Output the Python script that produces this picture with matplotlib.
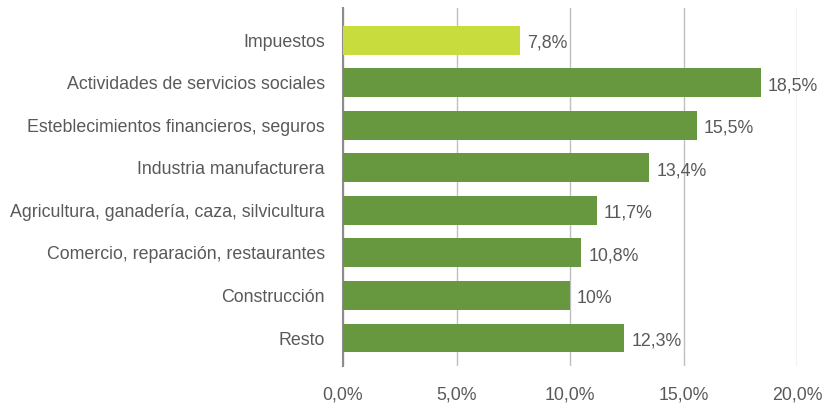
import matplotlib
matplotlib.use("Agg")
import matplotlib.pyplot as plt

categorias = ["Impuestos",
              "Actividades de servicios sociales",
              "Esteblecimientos financieros, seguros",
              "Industria manufacturera",
              "Agricultura, ganadería, caza, silvicultura",
              "Comercio, reparación, restaurantes",
              "Construcción",
              "Resto"]
# longitudes de barra (las etiquetas son las del original)
valores = [7.8, 18.4, 15.6, 13.5, 11.2, 10.5, 10.0, 12.4]
etiquetas = ["7,8%", "18,5%", "15,5%", "13,4%", "11,7%", "10,8%", "10%", "12,3%"]
ticks = [0, 5, 10, 15, 20]
tick_labels = ["0,0%", "5,0%", "10,0%", "15,0%", "20,0%"]

plt.rcParams['font.family'] = ['Liberation Sans', 'DejaVu Sans']
gris = "#595959"
fs = 12.8

fig = plt.figure(figsize=(8.23, 4.05), dpi=100)
ax = fig.add_axes([0.4168, 0.096, 0.5516, 0.884])

colores = ["#c9dc3e"] + ["#67983f"] * (len(valores) - 1)
pos = list(range(len(categorias)))
ax.barh(pos, valores, height=0.68, color=colores, zorder=3)

for p, v, t in zip(pos, valores, etiquetas):
    ax.text(v + 0.3, p + 0.07, t, va="center", ha="left", fontsize=fs, color=gris)

ax.set_xlim(0, 20)
ax.set_ylim(7.66, -0.75)
ax.set_xticks(ticks)
ax.set_xticklabels(tick_labels, fontsize=fs, color=gris)
ax.set_yticks(pos)
ax.set_yticklabels(categorias, fontsize=fs, color=gris)
ax.tick_params(length=0, pad=13)
ax.tick_params(axis="x", pad=15)
ax.grid(axis="x", color="#bfbfbf", linewidth=1, zorder=0)
for s in ["top", "right", "bottom"]:
    ax.spines[s].set_visible(False)
ax.spines["left"].set_color("#8c8c8c")
ax.spines["left"].set_linewidth(1.5)

fig.savefig("out.png", dpi=100)
